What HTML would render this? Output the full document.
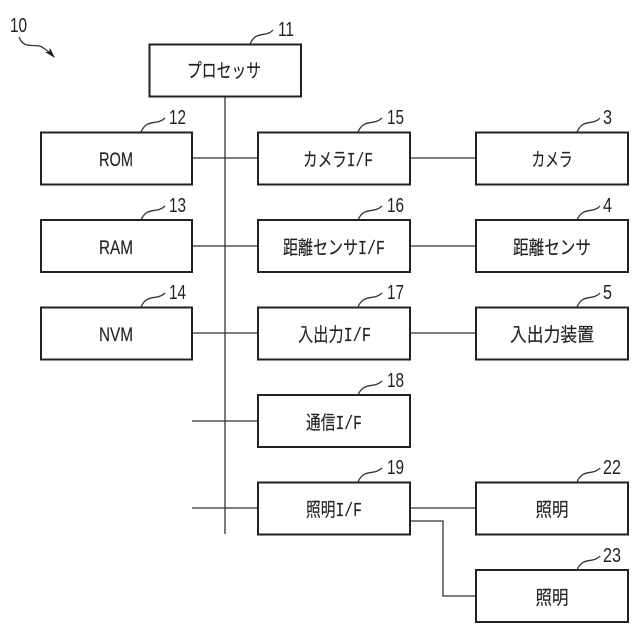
<!DOCTYPE html>
<html><head><meta charset="utf-8"><style>
html,body{margin:0;padding:0;background:#fff}
svg{display:block}
text{font-family:"Liberation Sans","Noto Sans CJK JP",sans-serif;fill:#222}
tspan.m{font-family:"Liberation Mono",monospace}
.b{fill:#fff;stroke:#222;stroke-width:2}
.l{fill:none;stroke:#333;stroke-width:1.3}
.t{font-size:19px;text-anchor:middle;stroke:#222;stroke-width:.15}
.n{font-size:20px}
</style></head><body>
<svg width="640" height="640" viewBox="0 0 640 640" xmlns="http://www.w3.org/2000/svg">
<g class="l">
<path d="M225 96V534"/>
<path d="M192 158H258M410 158H476M192 246H258M410 246H476M192 333H258M410 333H476M192 421H258M192 508H258M410 508H476M410 521H443V596H476"/>
</g>
<g class="b">
<rect x="149.500" y="44.500" width="151.500" height="52"/>
<rect x="41" y="132.500" width="151" height="52"/>
<rect x="41" y="220" width="151" height="52"/>
<rect x="41" y="307.500" width="151" height="52"/>
<rect x="258" y="132.500" width="152" height="52"/>
<rect x="258" y="220" width="152" height="52"/>
<rect x="258" y="307.500" width="152" height="52"/>
<rect x="258" y="395" width="152" height="52"/>
<rect x="258" y="482.500" width="152" height="52"/>
<rect x="476" y="132.500" width="152" height="52"/>
<rect x="476" y="220" width="152" height="52"/>
<rect x="476" y="307.500" width="152" height="52"/>
<rect x="476" y="482.500" width="152" height="52"/>
<rect x="476" y="570" width="152" height="52"/>
</g>
<g class="l">
<path d="M19 37C24 50 34 43 42 47C45 49 48 51 52 55"/>
<path d="M250 44C256 30 266 38 273 30"/>
<path d="M141 132C147 118 157 126 165 118"/>
<path d="M141 220C147 206 157 214 165 206"/>
<path d="M141 307C147 293 157 301 165 293"/>
<path d="M358 132C364 118 374 126 382 118"/>
<path d="M358 220C364 206 374 214 382 206"/>
<path d="M358 307C364 293 374 301 382 293"/>
<path d="M358 395C364 381 374 389 382 381"/>
<path d="M358 482C364 468 374 476 382 468"/>
<path d="M577 132C583 118 593 126 600 118"/>
<path d="M577 220C583 206 593 214 600 206"/>
<path d="M577 307C583 293 593 301 600 293"/>
<path d="M577 482C583 468 593 476 600 468"/>
<path d="M577 570C583 556 593 564 600 556"/>
</g>
<path d="M50 48L55 58L45 52L49 52Z" fill="#222"/>
<g class="t">
<text x="224" y="77" textLength="74" lengthAdjust="spacingAndGlyphs">プロセッサ</text>
<text x="116" y="166" textLength="34" lengthAdjust="spacingAndGlyphs">ROM</text>
<text x="116" y="254" textLength="34" lengthAdjust="spacingAndGlyphs">RAM</text>
<text x="116" y="341" textLength="34" lengthAdjust="spacingAndGlyphs">NVM</text>
<text x="338" y="166" textLength="70" lengthAdjust="spacingAndGlyphs">カメラ<tspan class="m">I/F</tspan></text>
<text x="334" y="254" textLength="102" lengthAdjust="spacingAndGlyphs">距離センサ<tspan class="m">I/F</tspan></text>
<text x="334.500" y="341" textLength="73" lengthAdjust="spacingAndGlyphs">入出力<tspan class="m">I/F</tspan></text>
<text x="334" y="429" textLength="56" lengthAdjust="spacingAndGlyphs">通信<tspan class="m">I/F</tspan></text>
<text x="334" y="516" textLength="56" lengthAdjust="spacingAndGlyphs">照明<tspan class="m">I/F</tspan></text>
<text x="552" y="166" textLength="41" lengthAdjust="spacingAndGlyphs">カメラ</text>
<text x="552" y="254" textLength="78" lengthAdjust="spacingAndGlyphs">距離センサ</text>
<text x="552" y="341" textLength="84" lengthAdjust="spacingAndGlyphs">入出力装置</text>
<text x="552" y="516" textLength="33" lengthAdjust="spacingAndGlyphs">照明</text>
<text x="552" y="604" textLength="33" lengthAdjust="spacingAndGlyphs">照明</text>
</g>
<g class="n">
<text x="10" y="32" textLength="17" lengthAdjust="spacingAndGlyphs">10</text>
<text x="278" y="36" textLength="16" lengthAdjust="spacingAndGlyphs">11</text>
<text x="169" y="124" textLength="17" lengthAdjust="spacingAndGlyphs">12</text>
<text x="169" y="212" textLength="17" lengthAdjust="spacingAndGlyphs">13</text>
<text x="169" y="299" textLength="17" lengthAdjust="spacingAndGlyphs">14</text>
<text x="387" y="124" textLength="17" lengthAdjust="spacingAndGlyphs">15</text>
<text x="387" y="212" textLength="17" lengthAdjust="spacingAndGlyphs">16</text>
<text x="387" y="299" textLength="17" lengthAdjust="spacingAndGlyphs">17</text>
<text x="387" y="387" textLength="17" lengthAdjust="spacingAndGlyphs">18</text>
<text x="387" y="474" textLength="17" lengthAdjust="spacingAndGlyphs">19</text>
<text x="603" y="124" textLength="9" lengthAdjust="spacingAndGlyphs">3</text>
<text x="603" y="212" textLength="9" lengthAdjust="spacingAndGlyphs">4</text>
<text x="603" y="299" textLength="9" lengthAdjust="spacingAndGlyphs">5</text>
<text x="603" y="474" textLength="18" lengthAdjust="spacingAndGlyphs">22</text>
<text x="603" y="562" textLength="18" lengthAdjust="spacingAndGlyphs">23</text>
</g>
</svg>
</body></html>
